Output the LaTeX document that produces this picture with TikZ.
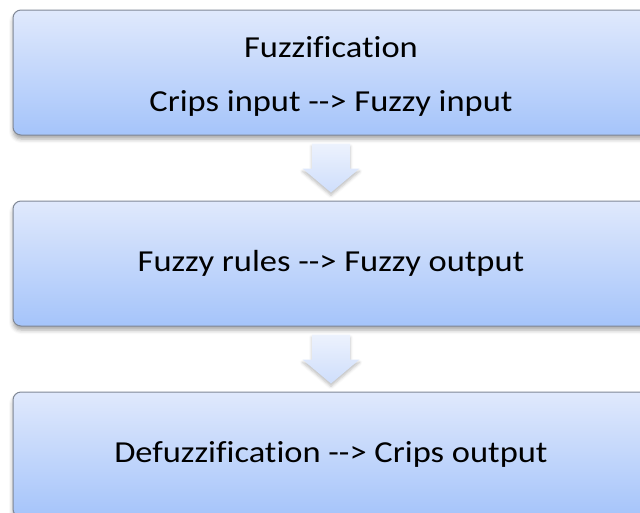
\documentclass[tikz,border=0pt]{standalone}
\usepackage{fontspec}
\setmainfont{Carlito}[Ligatures={TeXOff,NoCommon}, FakeStretch=1.13]
\usetikzlibrary{positioning,calc,shadows.blur}
\definecolor{boxtop}{RGB}{224,233,252}
\definecolor{boxbot}{RGB}{165,196,250}
\definecolor{boxline}{RGB}{128,136,150}
\colorlet{arrtop}{boxtop!60!white}
\colorlet{arrbot}{boxtop!70!boxbot}

% block arrow in the gap between two stages
\newcommand\flowarrow[2]{%
  \path[flow] ($(#1.south)!0.5!(#2.north)$) ++(-19,-24.5) -- ++(38,0) -- ++(0,25)
    -- ++(9.5,0) -- ++(-28.5,24) -- ++(-28.5,-24) -- ++(9.5,0) -- cycle;}
% text line lowered without changing the node size
\newcommand\lowline[1]{\raisebox{-11.5pt}[0pt][0pt]{#1}}

\begin{document}
\begin{tikzpicture}[x=1pt, y=-1pt,
    stage/.style={rectangle, rounded corners=8pt, draw=boxline, line width=1pt,
      top color=boxtop, bottom color=boxbot,
      minimum width=636pt, minimum height=125pt, align=center,
      font=\fontsize{30.5}{54}\selectfont,
      blur shadow={shadow xshift=0pt, shadow yshift=-4pt, shadow blur radius=4pt, shadow opacity=35}},
    flow/.style={top color=arrtop, bottom color=arrbot,
      blur shadow={shadow xshift=0pt, shadow yshift=-3pt, shadow blur radius=3pt, shadow opacity=25}}]
  \clip (0,0) rectangle (640,512);

  % the three stages
  \node[stage] (fuzz) at (331,72.5) {\lowline{Fuzzification}\\\lowline{Crips input --> Fuzzy input}};
  \node[stage, below=65pt of fuzz] (rules) {Fuzzy rules --> Fuzzy output};
  \node[stage, below=65pt of rules] (defuzz) {Defuzzification --> Crips output};

  % arrows between stages
  \flowarrow{fuzz}{rules}
  \flowarrow{rules}{defuzz}
\end{tikzpicture}
\end{document}
